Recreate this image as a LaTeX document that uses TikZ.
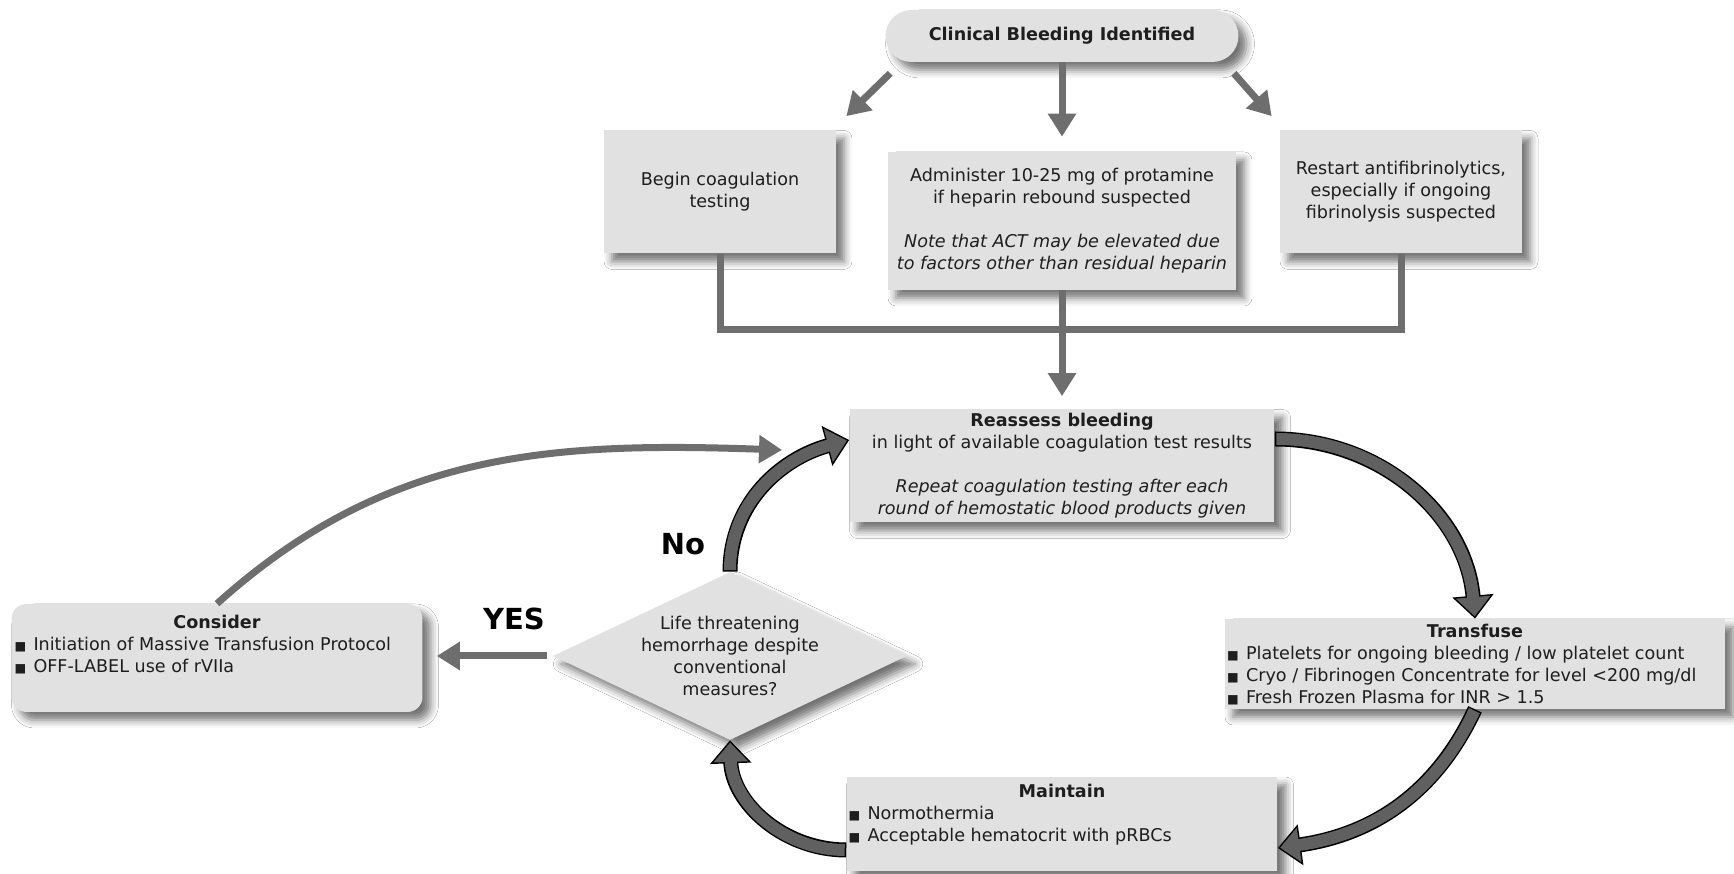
\documentclass[tikz,border=0pt]{standalone}
\usepackage{fontspec}
\setmainfont{DejaVu Sans}
\usetikzlibrary{arrows.meta,shapes.geometric,calc,shadows.blur}

\definecolor{boxgray}{RGB}{225,225,225}
\definecolor{linegray}{RGB}{110,110,110}
\definecolor{blockgray}{RGB}{96,96,96}
\definecolor{txtgray}{RGB}{30,30,30}

\newcommand{\bul}{\makebox[0.38cm][l]{\fontsize{7}{7}\selectfont ■}}

\tikzset{
  box/.style={fill=boxgray, text=txtgray, inner sep=0pt,
    font=\fontsize{10}{12.5}\selectfont,
    blur shadow={shadow xshift=0.16cm, shadow yshift=-0.16cm,
      shadow blur radius=0.16cm, shadow opacity=55}},
  textbox/.style={box, align=center},
  decision/.style={box, align=center, diamond, aspect=2.1,
    minimum width=7.08cm, minimum height=3.36cm},
  conn/.style={draw=linegray, line width=0.14cm,
    -{Triangle[width=0.54cm,length=0.46cm]}},
  joinline/.style={draw=linegray, line width=0.14cm},
  blockarrow/.style={draw=blockgray, line width=0.24cm,
    shorten >=0.046cm, shorten <=0.03cm,
    -{Triangle[width=0.67cm,length=0.385cm]},
    preaction={draw=black, line width=0.30cm, shorten >=0pt, shorten <=0pt,
      -{Triangle[width=0.80cm,length=0.46cm]}}},
  answer/.style={font=\fontsize{16.5}{18}\selectfont\bfseries, text=black},
}

\begin{document}
\begin{tikzpicture}[x=0.02cm, y=0.02cm]
    \fill[white] (0,0) rectangle (1734,874);
    \useasboundingbox (0,0) rectangle (1734,874);

    % Start
    \node[box, rounded corners=0.52cm, minimum width=7.06cm, minimum height=1.04cm,
          font=\fontsize{10}{12.5}\selectfont\bfseries] (clinical) at (1062,838)
          {Clinical Bleeding Identified};

    % First actions
    \node[textbox, minimum width=4.64cm, minimum height=2.46cm] (coagtest) at (720,682)
        {Begin coagulation\\testing};
    \node[textbox, minimum width=6.96cm, minimum height=2.76cm] (protamine) at (1062,653)
        {Administer 10-25 mg of protamine\\if heparin rebound suspected\\[12.5pt]
         \textit{Note that ACT may be elevated due}\\\textit{to factors other than residual heparin}};
    \node[textbox, minimum width=4.84cm, minimum height=2.46cm] (antifib) at (1401,682)
        {Restart antifibrinolytics,\\especially if ongoing\\fibrinolysis suspected};

    % Loop
    \node[textbox, minimum width=8.5cm, minimum height=2.26cm] (reassess) at (1062,408)
        {\textbf{Reassess bleeding}\\in light of available coagulation test results\\[12.5pt]
         \textit{Repeat coagulation testing after each}\\\textit{round of hemostatic blood products given}};
    \node[box, inner xsep=0.04cm] (transfuse) at (1475,210)
        {\parbox[c][1.8cm][t]{9.92cm}{\vspace*{0.1cm}\centering\textbf{Transfuse}\par\raggedright
         \bul Platelets for ongoing bleeding / low platelet count\par
         \bul Cryo / Fibrinogen Concentrate for level <200 mg/dl\par
         \bul Fresh Frozen Plasma for INR > 1.5}};
    \node[box, inner xsep=0.04cm] (maintain) at (1062,50)
        {\parbox[c][1.88cm][t]{8.54cm}{\vspace*{0.15cm}\centering\textbf{Maintain}\par\raggedright
         \bul Normothermia\par
         \bul Acceptable hematocrit with pRBCs}};
    \node[decision] (decide) at (730,218)
        {Life threatening\\hemorrhage despite\\conventional\\measures?};
    \node[box, rounded corners=0.3cm, inner xsep=0.06cm] (consider) at (217,216)
        {\parbox[c][2.16cm][t]{8.1cm}{\vspace*{0.22cm}\centering\textbf{Consider}\par\raggedright
         \bul Initiation of Massive Transfusion Protocol\par
         \bul OFF-LABEL use of rVIIa}};

    % Answers
    \node[answer] (yes) at (514,255) {YES};
    \node[answer] (no) at (683,330) {No};

    % Arrows from the start
    \draw[conn] ([shift={(5,-11)}]clinical.south west) -- ([shift={(10,14)}]coagtest.north east);
    \draw[conn, shorten >=0.3cm] (clinical.south) -- (protamine.north);
    \draw[conn] ([shift={(-5,-11)}]clinical.south east) -- ([shift={(-8,14)}]antifib.north west);

    % Merge into reassess
    \coordinate (merge) at (1062,544);
    \draw[joinline] (coagtest.south) |- (merge) -| (antifib.south);
    \draw[joinline] (protamine.south) -- (merge);
    \draw[conn, shorten >=0.26cm] (merge) -- (reassess.north);

    % Yes branch
    \draw[conn, shorten <=0.12cm, shorten >=0.28cm] (decide.west) -- (decide.west -| consider.east);
    \coordinate (mtpend) at (782,424);
    \draw[conn] (consider.north) to[out=42, in=178] (mtpend);

    % Cycle
    \draw[blockarrow] (decide.north) to[out=90, in=195] ([shift={(0,26)}]reassess.west);
    \draw[blockarrow] ([shift={(0,27)}]reassess.east) to[out=0, in=95] (transfuse.north);
    \draw[blockarrow] (transfuse.south) to[out=-115, in=8] ([shift={(0,-24)}]maintain.east);
    \draw[blockarrow] ([shift={(0,-26)}]maintain.west) to[out=180, in=-88] (decide.south);
\end{tikzpicture}
\end{document}
